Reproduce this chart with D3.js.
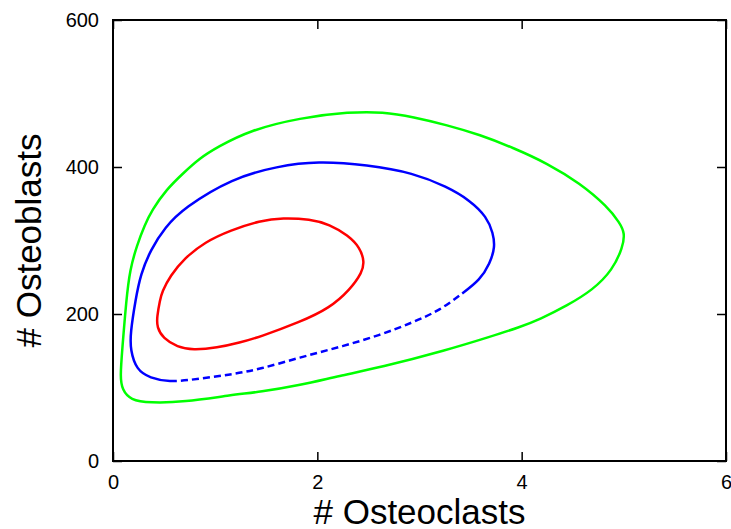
<!DOCTYPE html>
<html>
<head>
<meta charset="utf-8">
<script src="https://cdn.jsdelivr.net/npm/d3@7"></script>
<style>
  body { margin: 0; background: #fff; }
  svg { display: block; font-family: "Liberation Sans", Arial, sans-serif; }
</style>
</head>
<body>
<div id="chart"></div>
<script>
// Axis ticks
const xTicks = [0, 2, 4, 6];
const yTicks = [0, 200, 400, 600];

// Red orbit (closed), [osteoclasts, osteoblasts]
const redOrbit = [
  [0.46, 219], [0.43, 196], [0.43, 182], [0.49, 167], [0.63, 155], [0.78, 151],
  [1.02, 154], [1.24, 161], [1.44, 169], [1.83, 189], [2.12, 208], [2.32, 233],
  [2.44, 257], [2.46, 271], [2.42, 290], [2.30, 307], [2.12, 322], [1.93, 329],
  [1.66, 331], [1.44, 327], [1.15, 314], [0.90, 298], [0.70, 276], [0.56, 252],
  [0.48, 230]
];

// Blue orbit (closed); the stretch from blueDashFrom to blueDashTo is dashed
const blueOrbit = [
  [0.23, 124], [0.36, 113], [0.56, 107], [0.85, 112], [1.17, 118], [1.44, 125],
  [1.83, 141], [2.22, 155], [2.61, 171], [2.94, 189], [3.20, 205], [3.43, 229],
  [3.59, 246], [3.69, 269], [3.74, 291], [3.72, 310], [3.66, 332], [3.49, 355],
  [3.27, 373], [2.94, 392], [2.49, 403], [2.00, 408], [1.61, 401], [1.17, 385],
  [0.69, 344], [0.51, 318], [0.37, 288], [0.27, 254], [0.22, 219], [0.17, 174],
  [0.17, 151]
];
const blueDashFrom = [0.56, 107];
const blueDashTo = [3.43, 229];

// Green orbit (closed)
const greenOrbit = [
  [0.36, 79], [0.69, 80], [1.17, 90], [1.44, 94], [1.83, 103], [2.22, 116],
  [2.61, 127], [3.27, 151], [3.69, 169], [3.98, 182], [4.18, 193], [4.44, 211],
  [4.70, 233], [4.89, 260], [4.99, 291], [5.01, 310], [4.96, 324], [4.84, 346],
  [4.57, 378], [4.25, 405], [3.92, 426], [3.59, 444], [3.27, 457], [2.94, 468],
  [2.64, 475], [2.32, 475], [1.83, 467], [1.34, 450], [1.02, 427], [0.85, 412],
  [0.69, 392], [0.52, 369], [0.38, 341], [0.31, 321], [0.235, 294], [0.165, 260],
  [0.13, 219], [0.09, 151], [0.07, 114], [0.09, 97], [0.17, 83]
];

const width = 731;
const height = 529;
const marginTop = 20;
const marginRight = 5;
const marginBottom = 68;
const marginLeft = 113;

const x = d3.scaleLinear()
    .domain([0, 6])
    .range([marginLeft, width - marginRight]);

const y = d3.scaleLinear()
    .domain([0, 600])
    .range([height - marginBottom, marginTop]);

const svg = d3.select("#chart").append("svg")
    .attr("width", width)
    .attr("height", height)
    .attr("viewBox", [0, 0, width, height]);

// smooth closed curves
const loop = d3.line()
    .x(d => x(d[0]))
    .y(d => y(d[1]))
    .curve(d3.curveBasisClosed);

svg.append("path")
    .attr("d", loop(greenOrbit))
    .attr("fill", "none")
    .attr("stroke", "#00ff00")
    .attr("stroke-width", 2.5);

const blue = svg.append("path")
    .attr("d", loop(blueOrbit))
    .attr("fill", "none")
    .attr("stroke", "#0000ff")
    .attr("stroke-width", 2.5);

// dash only the lower stretch of the blue orbit
const node = blue.node();
const total = node.getTotalLength();
function lengthNear(pt) {
  const tx = x(pt[0]), ty = y(pt[1]);
  let best = 0, bestD = Infinity;
  for (let l = 0; l <= total; l += 0.5) {
    const p = node.getPointAtLength(l);
    const dd = (p.x - tx) ** 2 + (p.y - ty) ** 2;
    if (dd < bestD) { bestD = dd; best = l; }
  }
  return best;
}
const ls = lengthNear(blueDashFrom);
const le = lengthNear(blueDashTo);
const dash = [ls, 0];
let used = ls;
while (used + 11 <= le) { dash.push(7, 4); used += 11; }
dash.push(total - used, 0);
blue.attr("stroke-dasharray", dash.join(","));

svg.append("path")
    .attr("d", loop(redOrbit))
    .attr("fill", "none")
    .attr("stroke", "#ff0000")
    .attr("stroke-width", 2.5);

// axes, ticks pointing inward
function styleAxis(g) {
  g.select(".domain").remove();
  g.selectAll(".tick line").attr("stroke", "#000").attr("stroke-width", 1.5);
  g.selectAll(".tick text").attr("font-size", 20).attr("fill", "#000")
      .attr("font-family", "'Liberation Sans', Arial, sans-serif");
}

svg.append("g")
    .attr("transform", `translate(0,${height - marginBottom})`)
    .call(d3.axisBottom(x).tickValues(xTicks).tickFormat(d3.format("d")).tickSize(-9).tickPadding(14))
    .call(styleAxis);

svg.append("g")
    .attr("transform", `translate(${marginLeft},0)`)
    .call(d3.axisLeft(y).tickValues(yTicks).tickFormat(d3.format("d")).tickSize(-9).tickPadding(14))
    .call(styleAxis);

svg.append("g")
    .attr("transform", `translate(0,${marginTop})`)
    .call(d3.axisTop(x).tickValues(xTicks).tickSize(-9).tickFormat(""))
    .call(styleAxis);

svg.append("g")
    .attr("transform", `translate(${width - marginRight},0)`)
    .call(d3.axisRight(y).tickValues(yTicks).tickSize(-9).tickFormat(""))
    .call(styleAxis);

// frame
svg.append("rect")
    .attr("x", marginLeft)
    .attr("y", marginTop)
    .attr("width", width - marginRight - marginLeft)
    .attr("height", height - marginBottom - marginTop)
    .attr("fill", "none")
    .attr("stroke", "#000")
    .attr("stroke-width", 2);

// axis titles
svg.append("text")
    .attr("x", (marginLeft + width - marginRight) / 2)
    .attr("y", 524)
    .attr("text-anchor", "middle")
    .attr("font-size", 35)
    .text("# Osteoclasts");

svg.append("text")
    .attr("transform", `translate(41,${(marginTop + height - marginBottom) / 2}) rotate(-90)`)
    .attr("text-anchor", "middle")
    .attr("font-size", 35)
    .text("# Osteoblasts");
</script>
</body>
</html>
